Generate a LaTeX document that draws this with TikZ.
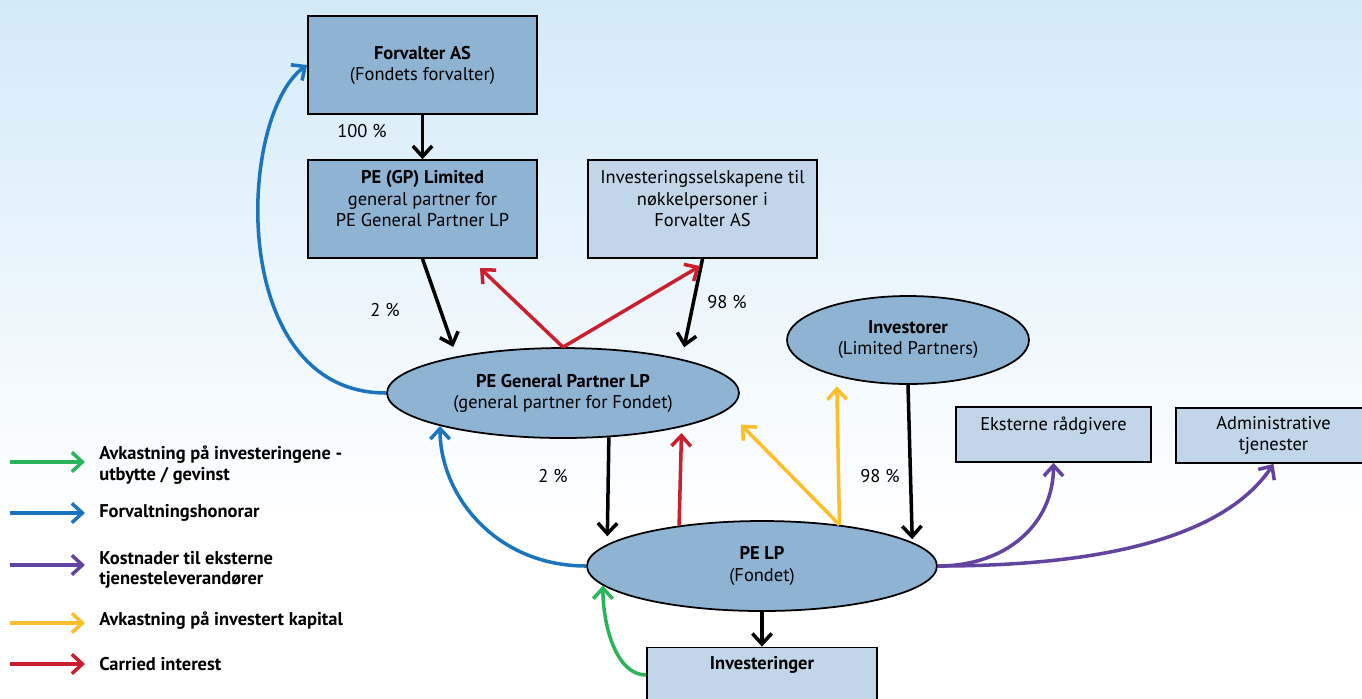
\documentclass[tikz,border=0pt]{standalone}
\usepackage{fontspec}
\setmainfont{PT Sans}
\usepackage{tikz}
\usetikzlibrary{arrows.meta, shapes.geometric}

\definecolor{boxdark}{HTML}{8FB3D3}
\definecolor{boxlight}{HTML}{C1D6E8}
\definecolor{bgtop}{HTML}{D3EAF8}
\definecolor{arrgreen}{HTML}{2BB45A}
\definecolor{arrblue}{HTML}{1C74BC}
\definecolor{arrpurple}{HTML}{6244A0}
\definecolor{arryellow}{HTML}{FDBE2C}
\definecolor{arrred}{HTML}{C8202F}

\begin{document}
\begin{tikzpicture}[x=0.02cm, y=-0.02cm, font=\fontsize{10.5}{12}\selectfont,
    bigbox/.style={draw, rectangle, line width=1pt, minimum width=4.58cm, minimum height=1.96cm, align=center, inner sep=0pt},
    smallbox/.style={draw, rectangle, line width=1pt, fill=boxlight, minimum width=3.9cm, minimum height=1.1cm, align=center, inner sep=0pt},
    oval/.style={draw, ellipse, line width=1pt, fill=boxdark, align=center, inner sep=0pt},
    lifted/.style={text depth=12pt},
    conn/.style={line width=2pt, -{Straight Barb[length=6pt, width=11pt]}},
    legarr/.style={line width=2pt, -{Straight Barb[length=6pt, width=11pt]}, shorten >=0.28cm},
    legtext/.style={anchor=west, align=left, inner sep=0pt, font=\fontsize{10.5}{11.5}\selectfont\bfseries},
    pct/.style={inner sep=0pt}]
    \useasboundingbox (0,0) rectangle (1362,698);
    % background
    \shade[top color=bgtop, bottom color=white] (0,0) rectangle (1362,520);
    \fill[white] (0,520) rectangle (1362,698);

    % Boxes and ellipses
    \node[bigbox, fill=boxdark] (forv) at (422.5,65) {\textbf{Forvalter AS}\\(Fondets forvalter)};
    \node[bigbox, fill=boxdark, lifted] (gpltd) at (422.5,209) {\textbf{PE (GP) Limited}\\general partner for\\PE General Partner LP};
    \node[bigbox, fill=boxlight, lifted] (isel) at (702.5,209) {Investeringsselskapene til\\nøkkelpersoner i\\Forvalter AS};
    \node[oval, minimum width=7.04cm, minimum height=1.8cm] (gplp) at (563,393) {\textbf{PE General Partner LP}\\(general partner for Fondet)};
    \node[oval, minimum width=4.84cm, minimum height=1.76cm] (invr) at (908,340) {\textbf{Investorer}\\(Limited Partners)};
    \node[oval, minimum width=7cm, minimum height=1.8cm] (pelp) at (762,566) {\textbf{PE LP}\\(Fondet)};
    \node[smallbox, lifted] (eks) at (1053.5,434.5) {Eksterne rådgivere};
    \node[smallbox] (adm) at (1273.5,435.5) {Administrative\\tjenester};
    \node[smallbox, minimum width=4.6cm, lifted, text depth=13.5pt] (inv) at (762,675) {\textbf{Investeringer}};

    % Ownership
    \draw[conn] (forv.south) -- (gpltd.north);
    \draw[conn, shorten >=0.2cm] (gpltd.south) -- (gplp.161);
    \draw[conn, shorten >=0.24cm] (isel.south) -- (gplp.16.5);
    \draw[conn, shorten >=0.16cm] (gplp.-44.4) -- (pelp.172.2);
    \draw[conn, shorten >=0.06cm] (invr.south) -- (pelp.9.6);
    \draw[conn] (pelp.south) -- (inv.north);
    \node[pct] (p100) at (362,131) {100 \%};
    \node[pct] (p2a) at (385,310) {2 \%};
    \node[pct] (p98a) at (727,302) {98 \%};
    \node[pct] (p2b) at (553,476) {2 \%};
    \node[pct] (p98b) at (880,476) {98 \%};

    % Carried interest
    \coordinate (ci1) at (480,268);
    \coordinate (ci2) at (700,266);
    \draw[conn, arrred] (gplp.north) -- (ci1);
    \draw[conn, arrred] (gplp.north) -- (ci2);
    \draw[conn, arrred, shorten >=0.12cm] (pelp.154.8) -- (gplp.-16.5);

    % Return on capital
    \draw[conn, arryellow, shorten >=0.2cm] (pelp.28) -- (invr.207.2);
    \draw[conn, arryellow, shorten >=0.4cm] (pelp.28) -- (gplp.-6.4);

    % Fees and costs
    \draw[conn, arrblue] (gplp.west) .. controls +(-160,0) and +(-70,50) .. (forv.west);
    \draw[conn, arrblue] (pelp.west) .. controls +(-90,0) and +(0,70) .. (gplp.195);
    \draw[conn, arrgreen] (inv.west) .. controls +(-30,0) and +(0,40) .. (pelp.187);
    \draw[conn, arrpurple] (pelp.east) .. controls +(70,0) and +(0,60) .. (eks.south);
    \draw[conn, arrpurple] (pelp.east) .. controls +(200,0) and +(-40,60) .. (adm.south);

    % Legend
    \node[legtext] (lt1) at (99,465) {Avkastning på investeringene -\\utbytte / gevinst};
    \node[legtext] (lt2) at (99,513) {Forvaltningshonorar};
    \node[legtext] (lt3) at (99,570) {Kostnader til eksterne\\tjenesteleverandører};
    \node[legtext] (lt4) at (99,621) {Avkastning på investert kapital};
    \node[legtext] (lt5) at (99,664) {Carried interest};
    \coordinate (lg1) at (10,462);
    \coordinate (lg2) at (10,513);
    \coordinate (lg3) at (10,565);
    \coordinate (lg4) at (10,623);
    \coordinate (lg5) at (10,664);
    \draw[legarr, arrgreen] (lg1) -- (lg1 -| lt1.west);
    \draw[legarr, arrblue] (lg2) -- (lg2 -| lt2.west);
    \draw[legarr, arrpurple] (lg3) -- (lg3 -| lt3.west);
    \draw[legarr, arryellow] (lg4) -- (lg4 -| lt4.west);
    \draw[legarr, arrred] (lg5) -- (lg5 -| lt5.west);
\end{tikzpicture}
\end{document}
